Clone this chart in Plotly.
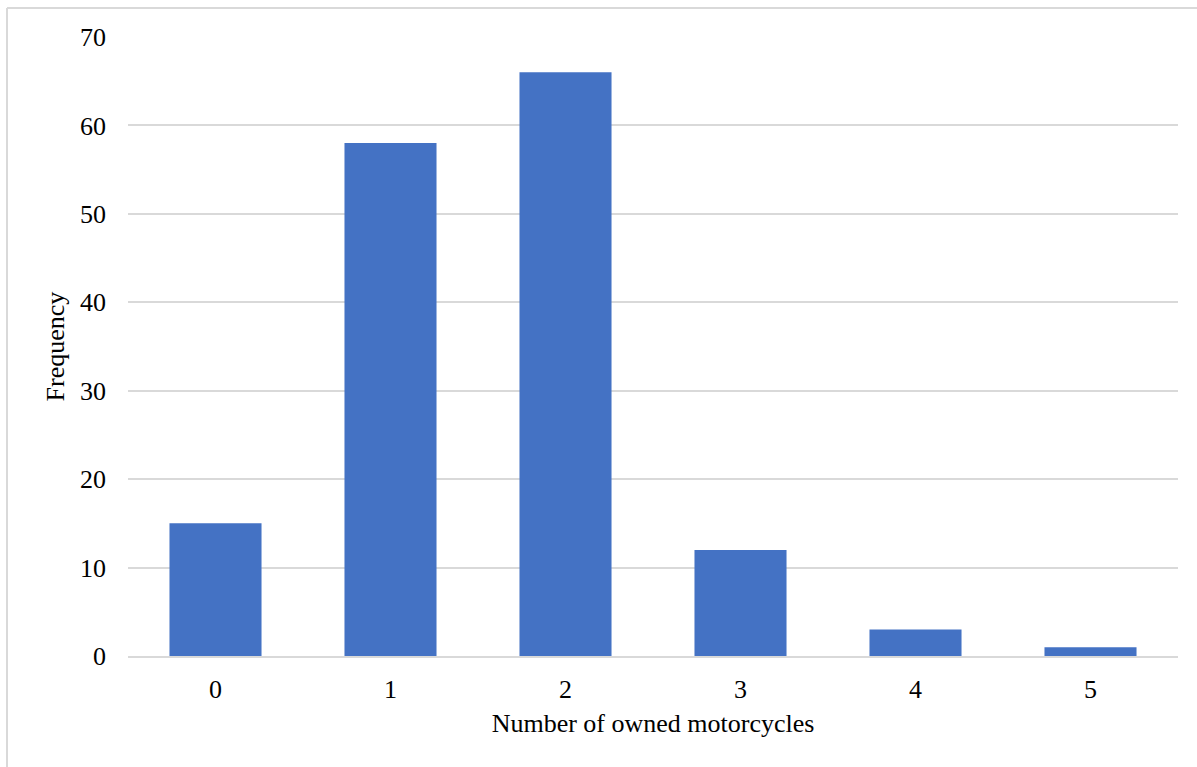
import plotly.graph_objects as go

# Frequency of motorcycles owned per respondent
categories = ["0", "1", "2", "3", "4", "5"]
frequency = [15, 58, 66, 12, 3, 1]
y_ticks = [0, 10, 20, 30, 40, 50, 60, 70]

W, H = 1197, 767
ML, MR, MT, MB = 128, 19, 37, 111
PW, PH = W - ML - MR, H - MT - MB


def px_x(px):
    return (px - ML) / PW


def px_y(py):
    return (H - MB - py) / PH


FONT = "Liberation Serif, Times New Roman, serif"
GRID = "#d9d9d9"
FS = 26

fig = go.Figure(
    go.Bar(
        x=categories,
        y=frequency,
        marker=dict(color="#4472C4", line=dict(width=0)),
        width=0.526,
    )
)

# chart-area frame (top and left edges)
frame = dict(type="line", xref="paper", yref="paper",
             line=dict(color=GRID, width=2), layer="below")
fig.add_shape(x0=px_x(7), x1=px_x(1210), y0=px_y(8), y1=px_y(8), **frame)
fig.add_shape(x0=px_x(7), x1=px_x(7), y0=px_y(8), y1=px_y(780), **frame)

fig.update_layout(
    width=W,
    height=H,
    margin=dict(l=ML, r=MR, t=MT, b=MB),
    paper_bgcolor="white",
    plot_bgcolor="white",
    font=dict(family=FONT, size=FS, color="#000000"),
    showlegend=False,
    bargap=0.474,
    xaxis=dict(
        type="category",
        showgrid=False,
        showline=True,
        linecolor=GRID,
        linewidth=2,
        ticks="",
        ticklabelstandoff=9,
        tickfont=dict(family=FONT, size=FS),
        title=dict(text="Number of owned motorcycles", standoff=11,
                   font=dict(family=FONT, size=FS)),
    ),
    yaxis=dict(
        range=[0, 70],
        tickvals=y_ticks,
        showgrid=True,
        gridcolor=GRID,
        gridwidth=1.5,
        zeroline=False,
        showline=False,
        ticks="",
        ticklabelstandoff=21,
        tickfont=dict(family=FONT, size=FS),
        title=dict(text="Frequency", standoff=7,
                   font=dict(family=FONT, size=FS)),
    ),
)

fig.write_html("out.html")
